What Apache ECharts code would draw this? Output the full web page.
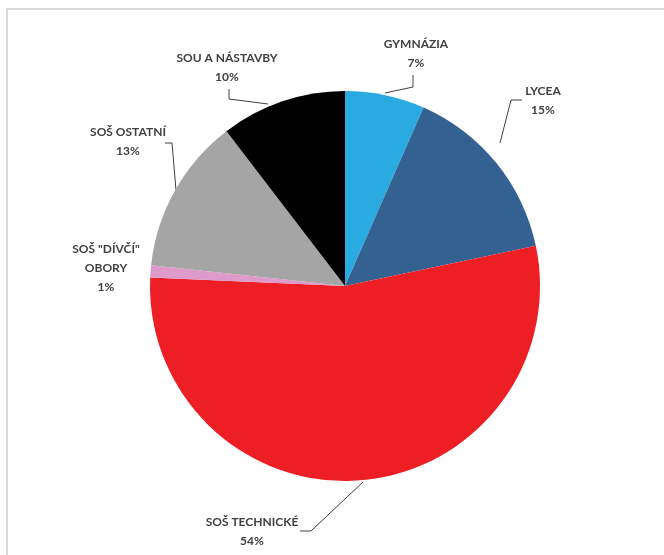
<!DOCTYPE html>
<html>
<head>
<meta charset="utf-8">
<script src="https://cdn.jsdelivr.net/npm/echarts@6/dist/echarts.min.js"></script>
<style>
html,body{margin:0;padding:0;background:#fff;}
#chart{width:664px;height:555px;}
</style>
</head>
<body>
<div id="chart"></div>
<script>
// Data
var categories = ['GYMNÁZIA', 'LYCEA', 'SOŠ TECHNICKÉ', 'SOŠ "DÍVČÍ"\nOBORY', 'SOŠ OSTATNÍ', 'SOU A NÁSTAVBY'];
var shares = [6.6, 15.1, 54.0, 1.0, 12.9, 10.4];
var colors = ['#29abe2', '#336191', '#ed1f24', '#dd9acb', '#a5a5a5', '#000000'];

// label layout (positions only)
var labelPos = [
  {x: 416, y: 54, line: [[385, 93], [413, 87], [413, 75]]},
  {x: 543, y: 101, line: [[500, 143], [511, 100], [522, 100]]},
  {x: 252, y: 532, line: [[363, 482], [311, 531], [300, 531]]},
  {x: 106, y: 268, line: null},
  {x: 128, y: 142, line: [[176, 190], [172, 143], [165, 143]]},
  {x: 227, y: 68, line: [[268, 104], [229, 99], [229, 89]]}
];

var data = categories.map(function (c, i) {
  var item = {name: c, value: shares[i], itemStyle: {color: colors[i]}};
  if (!labelPos[i].line) item.labelLine = {show: false};
  return item;
});

var chart = echarts.init(document.getElementById('chart'), null, {renderer: 'canvas'});
chart.setOption({
  backgroundColor: '#ffffff',
  animation: false,
  graphic: [{
    type: 'rect',
    shape: {x: 7, y: 9, width: 720, height: 620},
    style: {fill: 'none', stroke: '#d9d9d9', lineWidth: 2},
    silent: true
  }],
  series: [{
    type: 'pie',
    center: [345, 286],
    radius: 195,
    startAngle: 90,
    clockwise: true,
    data: data,
    itemStyle: {borderWidth: 0},
    label: {
      show: true,
      position: 'outside',
      fontFamily: 'Lato, "Open Sans", sans-serif',
      fontWeight: 'bold',
      fontSize: 12,
      lineHeight: 19,
      color: '#404040',
      align: 'center',
      formatter: function (p) { return p.name + '\n' + Math.round(p.value) + '%'; }
    },
    labelLine: {
      show: true,
      lineStyle: {color: '#404040', width: 1}
    },
    labelLayout: function (params) {
      var lp = labelPos[params.dataIndex];
      var r = {x: lp.x, y: lp.y, align: 'center', verticalAlign: 'middle'};
      if (lp.line) r.labelLinePoints = lp.line;
      return r;
    },
    emphasis: {disabled: true}
  }]
});
</script>
</body>
</html>
